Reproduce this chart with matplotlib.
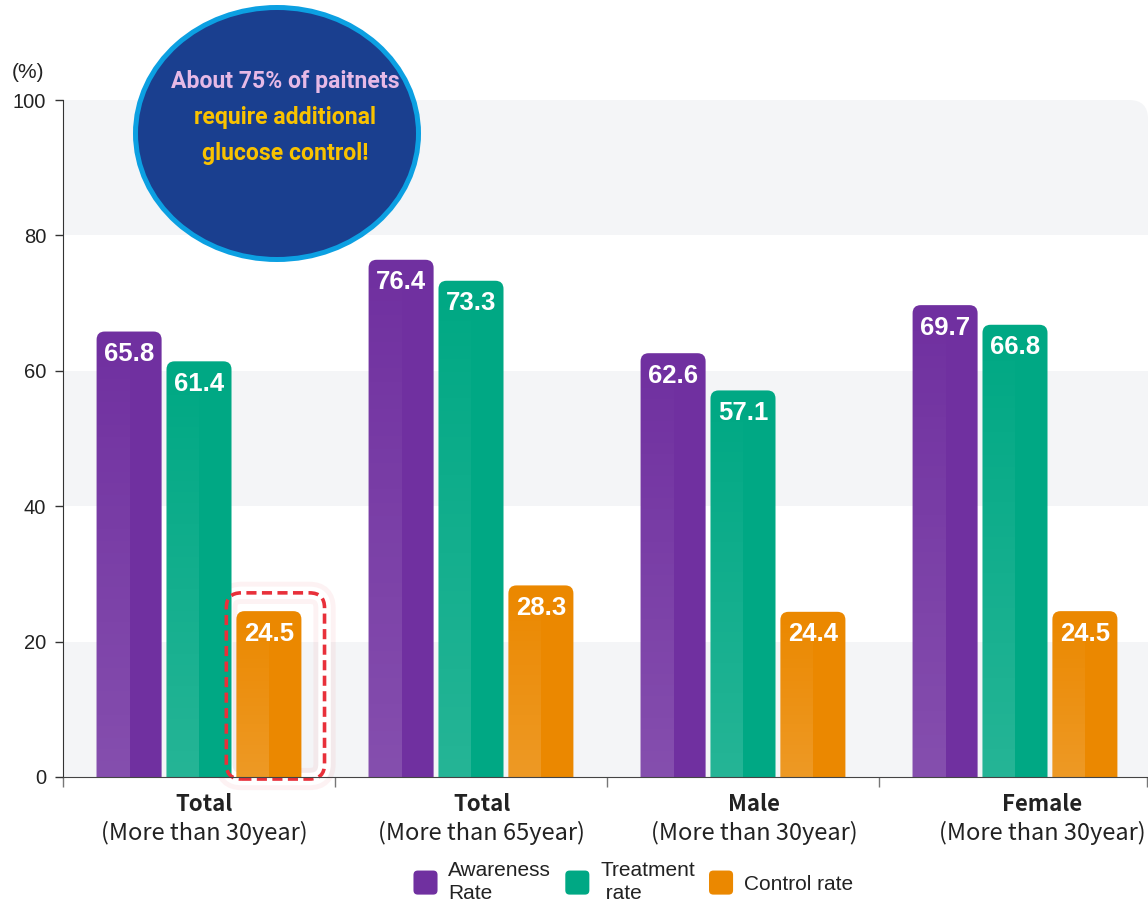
import matplotlib
matplotlib.use("Agg")
import numpy as np
import matplotlib.pyplot as plt
from matplotlib.patches import FancyBboxPatch, Rectangle, Ellipse, Patch
from matplotlib.legend_handler import HandlerPatch

# ---- data -------------------------------------------------------------
group_titles = ["Total", "Total", "Male", "Female"]
group_subtitles = ["(More than 30year)", "(More than 65year)",
                   "(More than 30year)", "(More than 30year)"]
awareness = [65.8, 76.4, 62.6, 69.7]
treatment = [61.4, 73.3, 57.1, 66.8]
control = [24.5, 28.3, 24.4, 24.5]
series_labels = ["Awareness\nRate", "Treatment\n rate", "Control rate"]
y_ticks = [0, 20, 40, 60, 80, 100]
callout_lines = ["About 75% of paitnets", "require additional", "glucose control!"]

# ---- styling ----------------------------------------------------------
dark_colors = ["#7030a0", "#00a884", "#eb8800"]
band_color = "#f4f5f7"
label_font = "Noto Sans CJK KR"

W, H = 1148, 907
fig = plt.figure(figsize=(W / 100, H / 100), dpi=100)
ax_left, ax_right, ax_bottom, ax_top = 63, 1148, 777, 100
ax = fig.add_axes([ax_left / W, 1 - ax_bottom / H,
                   (ax_right - ax_left) / W, (ax_bottom - ax_top) / H])

group_px = 272.0
xmax = (ax_right - ax_left) / group_px
px_per_y = (ax_bottom - ax_top) / 100.0
aspect = group_px / px_per_y          # x-units -> y-units for round corners

ax.set_xlim(0, xmax)
ax.set_ylim(0, 100)

# alternating background bands
ax.add_patch(FancyBboxPatch((-0.5, 70), xmax + 0.5, 30,
                            boxstyle="round,pad=0,rounding_size=0.07",
                            mutation_aspect=aspect, fc=band_color, ec="none", zorder=0))
ax.add_patch(Rectangle((0, 60), xmax, 20, fc="white", ec="none", zorder=0.5))
for lo in (0, 40):
    ax.add_patch(Rectangle((0, lo), xmax, 20, fc=band_color, ec="none", zorder=0.5))

# bars
offsets = [-0.257, 0.0, 0.257]
bar_w = 0.239
grad = np.ones((128, 1, 4))
grad[:, 0, 3] = np.linspace(0.0, 0.15, 128)
series = [awareness, treatment, control]
bar_boxes = {}
for s, (vals, col) in enumerate(zip(series, dark_colors)):
    for g, v in enumerate(vals):
        xc = g + 0.5 + offsets[s]
        x0 = xc - bar_w / 2
        bar = FancyBboxPatch((x0, -10), bar_w, v + 10,
                             boxstyle="round,pad=0,rounding_size=0.03",
                             mutation_aspect=aspect, fc=col, ec="none", zorder=3)
        ax.add_patch(bar)
        bar_boxes[(s, g)] = (x0, x0 + bar_w, v)
        im = ax.imshow(grad, extent=[x0, xc, 0, v], aspect="auto",
                       interpolation="bicubic", zorder=3.5)
        im.set_clip_path(bar)
        ax.annotate(f"{v:.1f}", xy=(xc, v), xytext=(0, -7.5),
                    textcoords="offset points", ha="center", va="top",
                    color="white", fontsize=18.5, fontweight="bold",
                    family="Liberation Sans", zorder=5)

ax.set_xlim(0, xmax)
ax.set_ylim(0, 100)

# highlight around the first control-rate bar
bx0, bx1, bv = bar_boxes[(2, 0)]
hx0, hx1 = bx0 - 0.037, bx1 + 0.085
hy0, hy1 = -0.3, bv + 2.7
for lw, ec, a in [(16, "#e8303a", 0.06), (9, "white", 1.0)]:
    ax.add_patch(FancyBboxPatch((hx0, hy0), hx1 - hx0, hy1 - hy0,
                                boxstyle="round,pad=0,rounding_size=0.055",
                                mutation_aspect=aspect, fc="none", ec=ec,
                                lw=lw, alpha=a, zorder=2.5, clip_on=False))
ax.add_patch(FancyBboxPatch((hx0, hy0), hx1 - hx0, hy1 - hy0,
                            boxstyle="round,pad=0,rounding_size=0.055",
                            mutation_aspect=aspect, fc="none", ec="#e8303a",
                            lw=2.6, linestyle=(0, (2.8, 1.5)), zorder=6, clip_on=False))

# axes styling
for sp in ("top", "right"):
    ax.spines[sp].set_visible(False)
ax.spines["left"].set_color("#333333")
ax.spines["bottom"].set_color("#444444")
ax.spines["left"].set_zorder(4)
ax.spines["bottom"].set_zorder(7)
ax.set_yticks(y_ticks)
ax.set_yticklabels([str(t) for t in y_ticks], family="Liberation Sans",
                   fontsize=14.5, color="#222222")
ax.tick_params(axis="y", length=6, width=1, color="#333333", pad=6)
ax.set_xticks([0, 1, 2, 3, xmax - 0.003])
ax.set_xticklabels([])
ax.tick_params(axis="x", length=7.5, width=1, color="#777777")

label_shift = [0.02, 0.04, 0.04, 0.10]
for g, (t, sub) in enumerate(zip(group_titles, group_subtitles)):
    xg = g + 0.5 + label_shift[g]
    ax.annotate(t, xy=(xg, 0), xycoords=("data", "axes fraction"),
                xytext=(0, -19.5), textcoords="offset points", ha="center",
                va="center", fontsize=16, fontweight="bold",
                family=label_font, color="#222222", annotation_clip=False)
    ax.annotate(sub, xy=(xg, 0), xycoords=("data", "axes fraction"),
                xytext=(0, -40.5), textcoords="offset points", ha="center",
                va="center", fontsize=17, family=label_font,
                color="#222222", annotation_clip=False)

fig.text(28 / W, 1 - 72 / H, "(%)", ha="center", va="center",
         family="Liberation Sans", fontsize=15, color="#222222")

# callout bubble
fig.add_artist(Ellipse((277 / W, 1 - 133.5 / H), 283 / W, 252 / H,
                       transform=fig.transFigure, fc="#1a3f8f", ec="#0ca0e2",
                       lw=3.6, zorder=10))

# choose the narrowest bold face among the installed sans families
renderer = fig.canvas.get_renderer()
best_family, best_w = "Liberation Sans", None
for fam in ["Liberation Sans", "Roboto", "Noto Sans CJK KR", "Lato",
            "Open Sans", "Noto Sans", "Inter", "DejaVu Sans"]:
    probe = fig.text(0, 0, callout_lines[0], family=fam, fontweight="bold", fontsize=20)
    w = probe.get_window_extent(renderer).width
    probe.remove()
    if best_w is None or w < best_w:
        best_family, best_w = fam, w
callout_size = min(21.0, 20 * 228 / best_w)

callout_colors = ["#e6b9e6", "#f9c200", "#f9c200"]
for i, (line, c) in enumerate(zip(callout_lines, callout_colors)):
    fig.text(285 / W, 1 - (88 + 36 * i) / H, line, ha="center", va="baseline",
             family=best_family, fontweight="bold", fontsize=callout_size,
             color=c, zorder=11)


# legend with rounded swatches
class RoundSwatch(HandlerPatch):
    def create_artists(self, legend, orig_handle, xdescent, ydescent,
                       width, height, fontsize, trans):
        side = min(width, height)
        p = FancyBboxPatch((-xdescent + (width - side) / 2, -ydescent + (height - side) / 2),
                           side, side, boxstyle=f"round,pad=0,rounding_size={side * 0.18}",
                           fc=orig_handle.get_facecolor(), ec="none", transform=trans)
        return [p]


handles = [Patch(fc=c) for c in dark_colors]
fig.legend(handles, series_labels, loc="center", bbox_to_anchor=(632 / W, 1 - 882 / H),
           ncol=3, frameon=False, prop={"family": "Liberation Sans", "size": 15},
           handlelength=1.4, handleheight=1.4, handletextpad=0.4,
           columnspacing=0.55, labelspacing=0.2,
           handler_map={Patch: RoundSwatch()})
for txt in fig.legends[0].get_texts():
    txt.set_color("#222222")
    txt.set_linespacing(1.3)

fig.savefig("out.png", dpi=100)
